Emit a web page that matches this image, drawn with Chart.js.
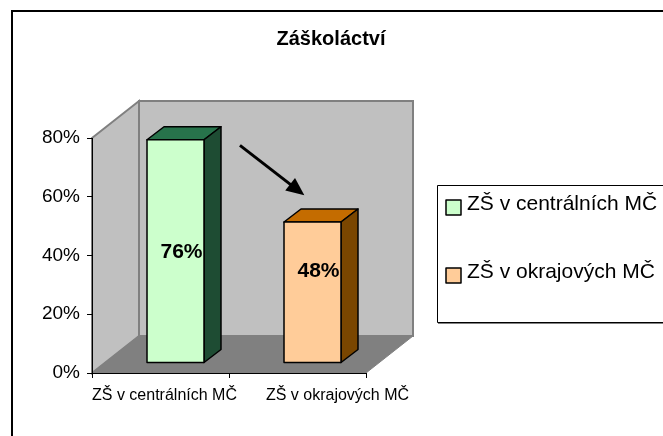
<!DOCTYPE html>
<html>
<head>
<meta charset="utf-8">
<script src="https://cdn.jsdelivr.net/npm/chart.js@4/dist/chart.umd.min.js"></script>
<style>
  html, body { margin: 0; padding: 0; background: #fff; }
  #wrap { width: 663px; height: 436px; }
</style>
</head>
<body>
<div id="wrap"><canvas id="chart" width="663" height="436"></canvas></div>
<script>
'use strict'

// data
var chartTitle = 'Záškoláctví';
var categories = ['ZŠ v centrálních MČ', 'ZŠ v okrajových MČ'];
var values = [0.76, 0.48];
var yTicks = [0, 0.2, 0.4, 0.6, 0.8];

// barvy: čelo, vršek, bok
var frontColors = ['#ccffcc', '#ffcc99'];
var topColors = ['#27734b', '#c46c00'];
var sideColors = ['#1e4c33', '#7a4600'];

var FONT = 'Liberation Sans, Arial, sans-serif';
var DEPTH_X = 47, DEPTH_Y = -37;   // hloubka stěn
var BAR_SX = 15, BAR_SY = -10;     // posun sloupců do hloubky
var BAR_DX = 17, BAR_DY = -13;     // hloubka sloupce
var LABEL_SHIFT = [4, 40];         // Excel roztáhl popisky osy X, aby se nepřekrývaly

function poly(ctx, pts, fill, stroke, lw) {
	ctx.beginPath();
	ctx.moveTo(pts[0][0], pts[0][1]);
	for (var i = 1; i < pts.length; i++) ctx.lineTo(pts[i][0], pts[i][1]);
	ctx.closePath();
	if (fill) { ctx.fillStyle = fill; ctx.fill(); }
	if (stroke) { ctx.strokeStyle = stroke; ctx.lineWidth = lw || 1; ctx.stroke(); }
}

var wallsPlugin = {
	id: 'walls',
	beforeDraw: function (chart) {
		var ctx = chart.ctx, a = chart.chartArea;
		ctx.save();
		// okraj grafu
		ctx.strokeStyle = '#000';
		ctx.lineWidth = 2;
		ctx.beginPath();
		ctx.moveTo(12, 436);
		ctx.lineTo(12, 11);
		ctx.lineTo(663, 11);
		ctx.stroke();

		// zadní stěna
		poly(ctx, [[a.left + DEPTH_X, a.top + DEPTH_Y], [a.right + DEPTH_X, a.top + DEPTH_Y],
			[a.right + DEPTH_X, a.bottom + DEPTH_Y], [a.left + DEPTH_X, a.bottom + DEPTH_Y]], '#c0c0c0', '#808080', 2);
		// levá stěna
		poly(ctx, [[a.left, a.top], [a.left + DEPTH_X, a.top + DEPTH_Y],
			[a.left + DEPTH_X, a.bottom + DEPTH_Y], [a.left, a.bottom]], '#c0c0c0', '#808080', 2);
		// podlaha
		poly(ctx, [[a.left, a.bottom], [a.right, a.bottom],
			[a.right + DEPTH_X, a.bottom + DEPTH_Y], [a.left + DEPTH_X, a.bottom + DEPTH_Y]], '#808080', '#808080', 1);
		ctx.restore();
	},
	afterDatasetsDraw: function (chart) {
		var ctx = chart.ctx, a = chart.chartArea;
		var meta = chart.getDatasetMeta(0);
		var xs = chart.scales.x, ys = chart.scales.y;
		ctx.save();
		ctx.lineJoin = 'round';
		meta.data.forEach(function (bar, i) {
			var l = bar.x - bar.width / 2 + BAR_SX,
				r = bar.x + bar.width / 2 + BAR_SX,
				t = bar.y + BAR_SY,
				b = bar.base + BAR_SY;
			poly(ctx, [[l, t], [r, t], [r + BAR_DX, t + BAR_DY], [l + BAR_DX, t + BAR_DY]], topColors[i], '#000', 1.5);
			poly(ctx, [[r, t], [r + BAR_DX, t + BAR_DY], [r + BAR_DX, b + BAR_DY], [r, b]], sideColors[i], '#000', 1.5);
			poly(ctx, [[l, t], [r, t], [r, b], [l, b]], frontColors[i], '#000', 1.5);

			ctx.fillStyle = '#000';
			ctx.font = 'bold 21px ' + FONT;
			ctx.textAlign = 'center';
			ctx.textBaseline = 'middle';
			ctx.fillText(Math.round(values[i] * 100) + '%', (l + r) / 2 + 6, Math.min((t + b) / 2, ys.getPixelForValue(0.35)) + 1);

			// popisky kategorií
			ctx.font = '16px ' + FONT;
			ctx.fillText(categories[i], xs.getPixelForValue(i) + LABEL_SHIFT[i], a.bottom + 23);
		});

		// šipka od prvního sloupce ke druhému
		var x0 = xs.getPixelForValue(0), x1 = xs.getPixelForValue(1);
		var ax = x0 + (x1 - x0) * 0.58, ay = ys.getPixelForValue(0.775);
		var bx = x0 + (x1 - x0) * 1.05, by = ys.getPixelForValue(0.605);
		var ang = Math.atan2(by - ay, bx - ax);
		ctx.strokeStyle = '#000';
		ctx.lineWidth = 3;
		ctx.beginPath();
		ctx.moveTo(ax, ay);
		ctx.lineTo(bx - 12 * Math.cos(ang), by - 12 * Math.sin(ang));
		ctx.stroke();
		ctx.fillStyle = '#000';
		ctx.beginPath();
		ctx.moveTo(bx, by);
		ctx.lineTo(bx - 18 * Math.cos(ang) + 8 * Math.sin(ang), by - 18 * Math.sin(ang) - 8 * Math.cos(ang));
		ctx.lineTo(bx - 18 * Math.cos(ang) - 8 * Math.sin(ang), by - 18 * Math.sin(ang) + 8 * Math.cos(ang));
		ctx.closePath();
		ctx.fill();

		// titulek
		ctx.font = 'bold 20px ' + FONT;
		ctx.textAlign = 'center';
		ctx.textBaseline = 'middle';
		ctx.fillText(chartTitle, 331, 39);

		// legenda
		ctx.fillStyle = '#fff';
		ctx.fillRect(437, 185, 230, 138);
		ctx.strokeStyle = '#000';
		ctx.lineWidth = 1;
		ctx.strokeRect(437.5, 185.5, 230, 137);
		ctx.strokeStyle = '#808080';
		ctx.beginPath();
		ctx.moveTo(438, 323.5);
		ctx.lineTo(663, 323.5);
		ctx.stroke();
		ctx.font = '21px ' + FONT;
		ctx.textAlign = 'left';
		categories.forEach(function (c, i) {
			var cy = 207 + i * 68;
			ctx.fillStyle = frontColors[i];
			ctx.fillRect(446, cy - 7, 15, 15);
			ctx.strokeStyle = '#000';
			ctx.lineWidth = 1.5;
			ctx.strokeRect(446, cy - 7, 15, 15);
			ctx.fillStyle = '#000';
			ctx.fillText(c, 467, cy - 3);
		});
		ctx.restore();
	}
};

Chart.defaults.font.family = FONT;
Chart.defaults.color = '#000';

new Chart(document.getElementById('chart'), {
	type: 'bar',
	data: {
		labels: categories,
		datasets: [{
			label: '',
			data: values,
			backgroundColor: 'rgba(0,0,0,0)',
			borderWidth: 0,
			barPercentage: 0.416,
			categoryPercentage: 1
		}]
	},
	options: {
		responsive: false,
		animation: false,
		layout: { padding: { left: 0, right: 297, top: 138, bottom: 0 } },
		plugins: { legend: { display: false }, tooltip: { enabled: false } },
		scales: {
			x: {
				offset: true,
				grid: { offset: true, drawOnChartArea: false, tickLength: 5, color: '#000' },
				border: { display: true, color: '#000', width: 1 },
				ticks: { display: false },
				afterFit: function (s) { s.height = 63; }
			},
			y: {
				min: 0,
				max: 0.8,
				afterBuildTicks: function (s) { s.ticks = yTicks.map(function (v) { return { value: v }; }); },
				grid: { drawOnChartArea: false, tickLength: 5, color: '#000' },
				border: { display: true, color: '#000', width: 1 },
				ticks: {
					font: { size: 19 },
					padding: 7,
					callback: function (v) { return Math.round(v * 100) + '%'; }
				},
				afterFit: function (s) { s.width = 92; }
			}
		}
	},
	plugins: [wallsPlugin]
});
</script>
</body>
</html>
